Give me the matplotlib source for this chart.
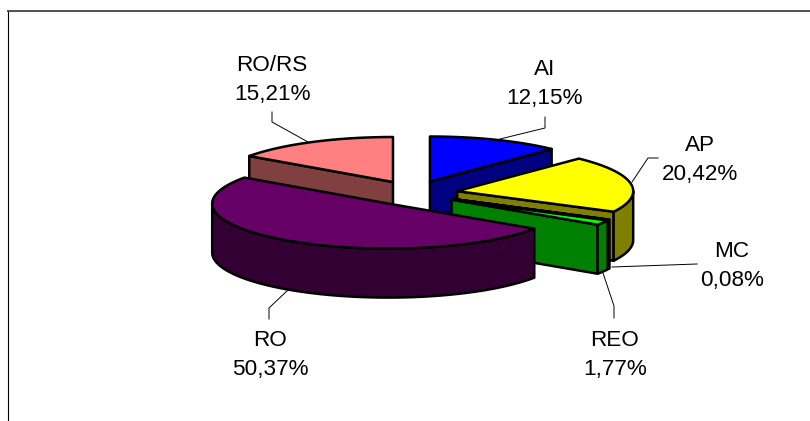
# ==========================================
# Exploded 3D Pie Chart
# ==========================================

import numpy as np
import matplotlib
matplotlib.use("Agg")
import matplotlib.pyplot as plt
from matplotlib.patches import Polygon

plt.rcParams['font.family'] = ['Liberation Sans', 'DejaVu Sans']

# ==========================================
# Data
# ==========================================

categories = ["AI", "AP", "MC", "REO", "RO", "RO/RS"]
values = [12.15, 20.42, 0.08, 1.77, 50.37, 15.21]
value_labels = ["12,15%", "20,42%", "0,08%", "1,77%", "50,37%", "15,21%"]
colors = ["#0000ff", "#ffff00", "#00ffff", "#00ff00", "#660066", "#ff8080"]
side_colors = ["#000080", "#808000", "#008080", "#008000", "#330033", "#804040"]

# Layout, in pixels of the 810x421 picture
center_x, center_y = 413.4, 193.2
radius_x, radius_y = 176, 45
depth = 49
explode_x, explode_y = 44.4, 12.6
label_pos = [(545, 84), (700, 160), (732, 266), (615, 355), (270, 355), (272, 80)]
leaders = [
    [(545, 117), (545, 128), (500, 139)],
    [(658, 158), (648, 158), (632, 182)],
    [(697, 264), (612, 267)],
    [(603, 273), (614, 306), (614, 318)],
    [(288, 290), (269, 308), (269, 319)],
    [(272, 112), (272, 122), (308, 142)],
]
draw_order = [0, 5, 1, 2, 3, 4]

# ==========================================
# Figure
# ==========================================

fig = plt.figure(figsize=(8.1, 4.21), dpi=100)
ax = fig.add_axes([0, 0, 1, 1])
ax.set_xlim(0, 810)
ax.set_ylim(421, 0)
ax.axis('off')

# Chart area border, top and left only
ax.plot([7.5, 7.5], [421, 11], color='black', lw=0.8, solid_capstyle='butt')
ax.plot([7, 810], [11, 11], color='#333333', lw=1.2, solid_capstyle='butt')

# ==========================================
# Slices
# ==========================================

edges = np.cumsum([0] + values) / sum(values) * 360


def rim(cx, cy, start, end):
    t = np.radians(np.linspace(start, end, max(int(end - start) * 2, 2)))
    return np.column_stack([cx + radius_x * np.sin(t), cy - radius_y * np.cos(t)])


def down(points):
    return points + np.array([0, depth])


def add_face(points, color):
    ax.add_patch(Polygon(points, closed=True, facecolor=color, edgecolor='black',
                         linewidth=1.8, joinstyle='round'))


for i in draw_order:
    start, end = edges[i], edges[i + 1]
    mid = np.radians((start + end) / 2)
    cx = center_x + explode_x * np.sin(mid)
    cy = center_y - explode_y * np.cos(mid)
    apex = np.array([[cx, cy]])

    # Cut walls that face the viewer
    for angle, visible in [(start, np.sin(np.radians(start)) < -1e-6),
                           (end, np.sin(np.radians(end)) > 1e-6)]:
        if visible:
            tip = rim(cx, cy, angle, angle + 1e-6)[:1]
            add_face(np.vstack([apex, tip, down(tip), down(apex)]), side_colors[i])

    # Outer wall, front half of the ellipse only
    front_start, front_end = max(start, 90), min(end, 270)
    if front_end > front_start:
        arc = rim(cx, cy, front_start, front_end)
        add_face(np.vstack([arc, down(arc)[::-1]]), side_colors[i])

    # Top face
    add_face(np.vstack([apex, rim(cx, cy, start, end)]), colors[i])

# ==========================================
# Labels and Leader Lines
# ==========================================

for line in leaders:
    xs, ys = zip(*line)
    ax.plot(xs, ys, color='black', lw=0.7, zorder=1)

for name, value, (x, y) in zip(categories, value_labels, label_pos):
    ax.text(x, y, name + "\n" + value, ha='center', va='center',
            fontsize=16.2, color='black', linespacing=1.5)

fig.savefig("out.png", dpi=100)
